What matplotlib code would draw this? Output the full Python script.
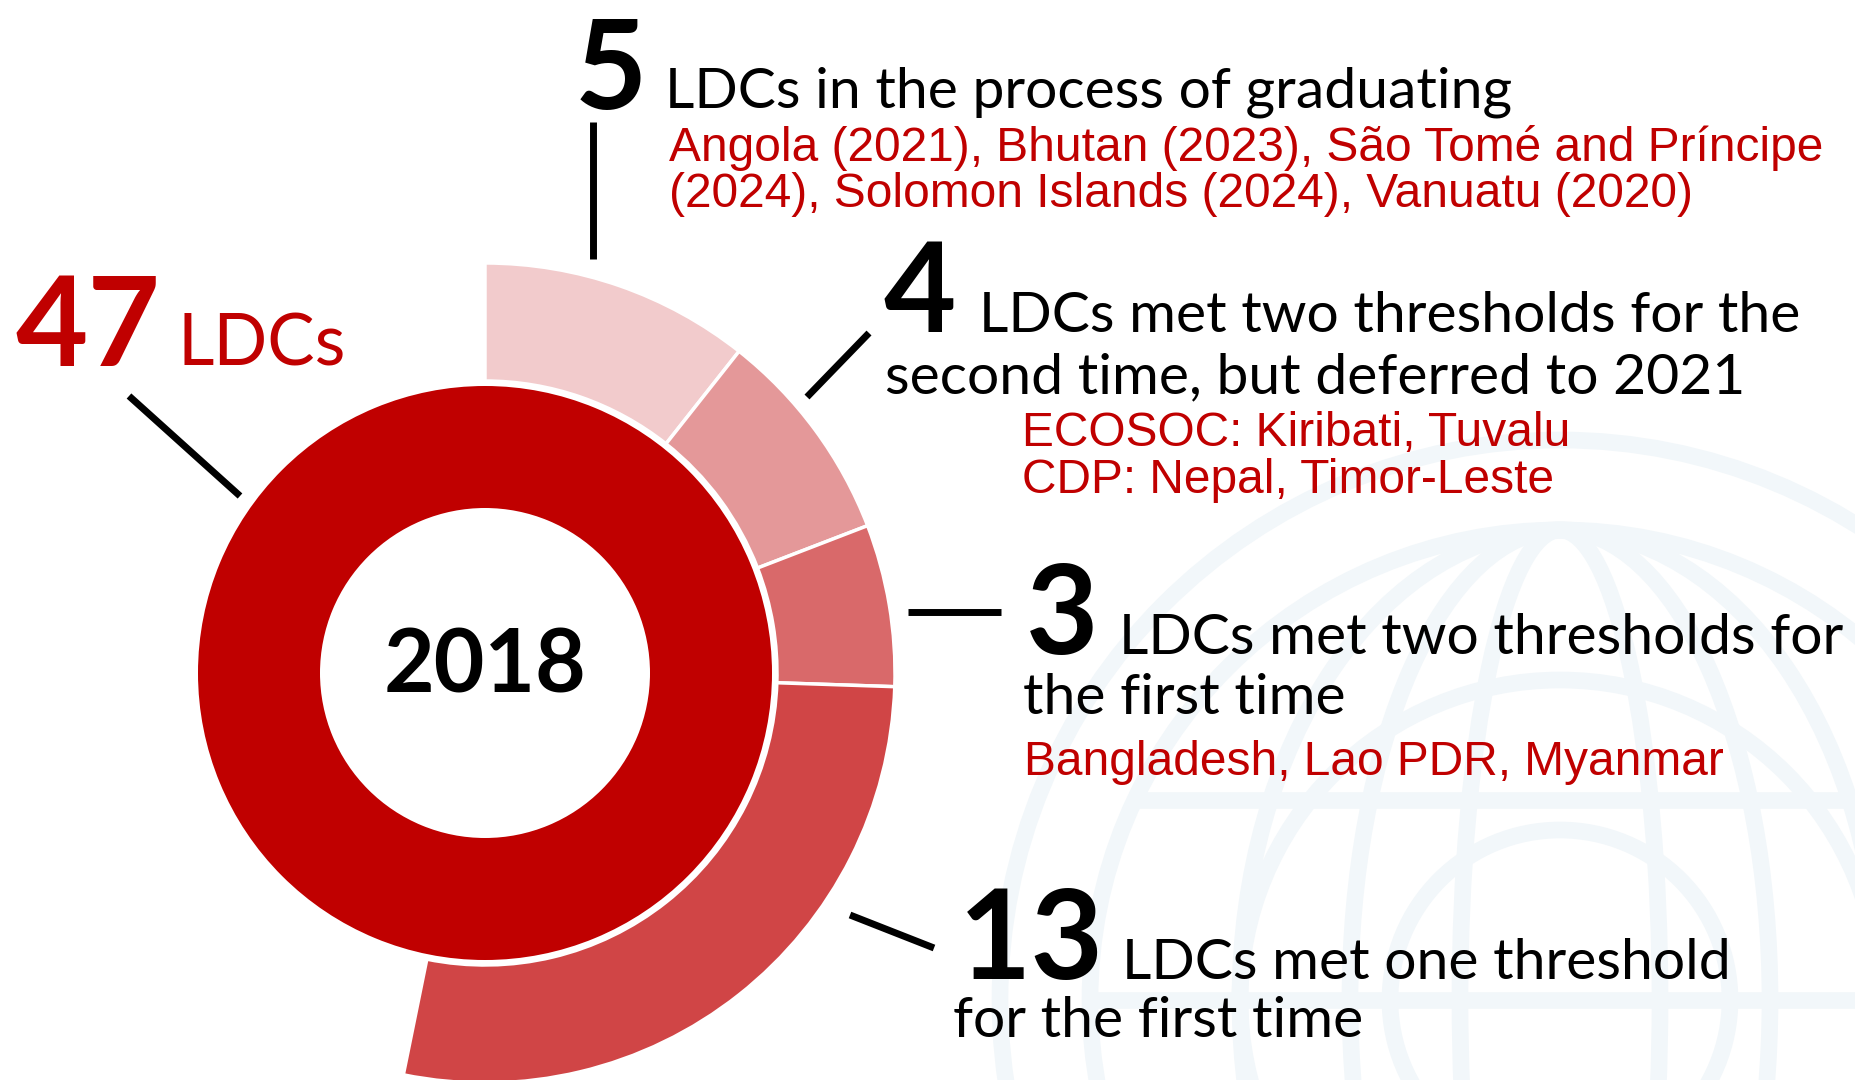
import matplotlib
matplotlib.use("Agg")
import matplotlib.pyplot as plt
from matplotlib.patches import Circle, Ellipse

# --- data -----------------------------------------------------------------
year = "2018"
total_ldcs = 47
group_counts = [5, 4, 3, 13]
group_colors = ["#F2CBCC", "#E49899", "#D9696A", "#D04546"]
group_headline = [
    ["LDCs in the process of graduating"],
    ["LDCs met two thresholds for the", "second time, but deferred to 2021"],
    ["LDCs met two thresholds for", "the first time"],
    ["LDCs met one threshold", "for the first time"],
]
group_countries = [
    ["Angola (2021), Bhutan (2023), São Tomé and Príncipe",
     "(2024), Solomon Islands (2024), Vanuatu (2020)"],
    ["ECOSOC: Kiribati, Tuvalu", "CDP: Nepal, Timor-Leste"],
    ["Bangladesh, Lao PDR, Myanmar"],
    [],
]

# --- layout (pixel coords, y measured from top) ----------------------------
W, H = 1855, 1080
center = (485, 673)
inner_r, inner_w = 287, 122
outer_r, outer_w = 410, 118

RED = "#C00000"
NUM_FONT = "Lato"
TXT_FONT = "Lato"
SUB_FONT = "Liberation Sans"

# left x / baseline y of the big number, headline lines and country lines
label_pos = [
    dict(num=(575, 109), head=[(665, 107)], sub=[(669, 161), (669, 207)]),
    dict(num=(883, 332), head=[(979, 332), (885, 393)], sub=[(1022, 446), (1022, 493)]),
    dict(num=(1026, 654), head=[(1119, 654), (1023, 714)], sub=[(1024, 775)]),
    dict(num=(959, 979), head=[(1122, 979), (953, 1037)], sub=[]),
]
leaders = [
    ((593, 122), (593, 259)),
    ((869, 333), (807, 397)),
    ((908, 612), (1001, 612)),
    ((850, 915), (934, 948)),
]
total_leader = ((129, 396), (240, 496))

fig = plt.figure(figsize=(W / 100, H / 100), dpi=100)
ax = fig.add_axes([0, 0, 1, 1])

# faint emblem-like watermark in the lower right
wm = "#F2F7FA"
wc = (1560, 1000)
for r in (170, 320, 470, 560):
    ax.add_patch(Circle(wc, r, fill=False, ec=wm, lw=12, zorder=0))
for w in (200, 420, 640):
    ax.add_patch(Ellipse(wc, w, 940, fill=False, ec=wm, lw=12, zorder=0))
ax.plot([wc[0] - 470, wc[0] + 470], [wc[1], wc[1]], color=wm, lw=12, zorder=0)
ax.plot([wc[0] - 420, wc[0] + 420], [wc[1] - 200, wc[1] - 200], color=wm, lw=12, zorder=0)

# y axis inverted: startangle=-90 points up on screen, counterclock=True runs clockwise
ax.pie([total_ldcs], radius=inner_r, center=center, colors=[RED],
       startangle=-90, counterclock=True,
       wedgeprops=dict(width=inner_w, linewidth=0))

rest = total_ldcs - sum(group_counts)
wedges, _ = ax.pie(group_counts + [rest], radius=outer_r, center=center,
                   colors=group_colors + ["none"], startangle=-90, counterclock=True,
                   wedgeprops=dict(width=outer_w, edgecolor="white", linewidth=2.5))
wedges[-1].set_edgecolor("none")

ax.set_xlim(0, W)
ax.set_ylim(H, 0)
ax.set_aspect("equal")
ax.axis("off")

ax.text(center[0], 667, year, ha="center", va="center", fontsize=63,
        fontweight="bold", family=NUM_FONT, color="black")

# total label
ax.text(15, 366, str(total_ldcs), fontsize=90, fontweight="bold", family=NUM_FONT,
        color=RED, va="baseline")
ax.text(178, 366, "LDCs", fontsize=51, family=TXT_FONT, color=RED, va="baseline")
ax.plot(*zip(*total_leader), color="black", lw=5, solid_capstyle="butt")

for n, heads, subs, pos, lead in zip(group_counts, group_headline, group_countries,
                                      label_pos, leaders):
    ax.text(*pos["num"], str(n), fontsize=90, fontweight="bold", family=NUM_FONT,
            color="black", va="baseline")
    for line, (x, y) in zip(heads, pos["head"]):
        ax.text(x, y, line, fontsize=41, family=TXT_FONT, color="black", va="baseline")
    for line, (x, y) in zip(subs, pos["sub"]):
        ax.text(x, y, line, fontsize=34.5, family=SUB_FONT, color=RED, va="baseline")
    ax.plot(*zip(*lead), color="black", lw=5, solid_capstyle="butt")

fig.savefig("out.png", dpi=100, facecolor="white")
